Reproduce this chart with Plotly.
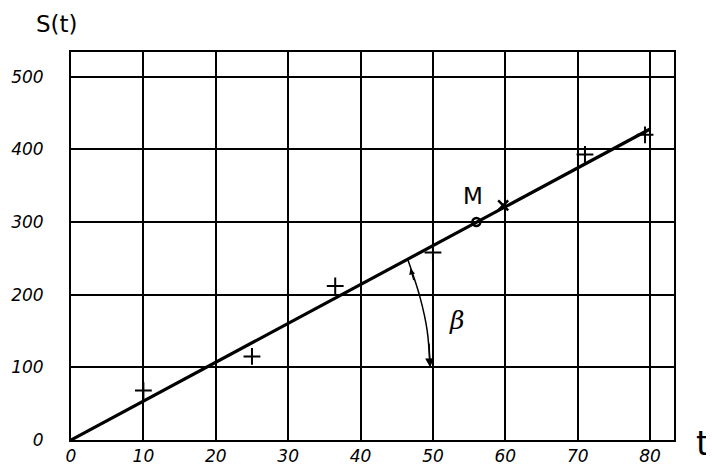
import plotly.graph_objects as go

# data
t_line = [0, 80]
s_line = [0, 428]
t_plus = [10, 25, 36.5, 50, 71, 79.3]
s_plus = [68, 115, 212, 258, 393, 420]
t_x = [59.7]
s_x = [323]
t_m = [56]
s_m = [300]
arc_t = [46.5, 48.2, 49.2, 49.6]
arc_s = [249, 197, 151, 100]
x_ticks = [0, 10, 20, 30, 40, 50, 60, 70, 80]
y_ticks = [0, 100, 200, 300, 400, 500]

# page body adds ~8px offset; compensate
OFF = 8
W, H = 714 - OFF, 472 - OFF
PL, PR, PT, PB = 71, 674, 52, 440   # desired plot box in window pixels
L, R, T, B = PL - OFF, OFF + W - PR, PT - OFF, OFF + H - PB
pw, ph = PR - PL, PB - PT


def px(x):
    return (x - PL) / pw


def py(y):
    return (PB - y) / ph


tickfont = dict(family="DejaVu Sans", size=17, color="black", style="italic")

fig = go.Figure()
fig.add_trace(go.Scatter(x=t_line, y=s_line, mode="lines",
                         line=dict(color="black", width=3.2), hoverinfo="skip"))
fig.add_trace(go.Scatter(x=t_plus, y=s_plus, mode="markers",
                         marker=dict(symbol="cross-thin", size=12, color="black",
                                     line=dict(color="black", width=2))))
fig.add_trace(go.Scatter(x=t_x, y=s_x, mode="markers",
                         marker=dict(symbol="x-thin", size=10, color="black",
                                     line=dict(color="black", width=2.5))))
fig.add_trace(go.Scatter(x=t_m, y=s_m, mode="markers",
                         marker=dict(symbol="circle-open", size=8, color="black",
                                     line=dict(color="black", width=2.5))))
fig.add_trace(go.Scatter(x=arc_t, y=arc_s, mode="lines",
                         line=dict(color="black", width=1.5, shape="spline")))

# arrowheads on the angle arc
fig.add_annotation(x=arc_t[-1], y=arc_s[-1], ax=49.45, ay=135, xref="x", yref="y",
                   axref="x", ayref="y", showarrow=True, arrowhead=2,
                   arrowsize=1.2, arrowwidth=1.5, arrowcolor="black", text="")
fig.add_annotation(x=46.9, y=236, ax=47.4, ay=218, xref="x", yref="y",
                   axref="x", ayref="y", showarrow=True, arrowhead=2,
                   arrowsize=1, arrowwidth=1.2, arrowcolor="black", text="")

fig.add_annotation(x=53.2, y=165, text="β", showarrow=False,
                   font=dict(family="DejaVu Serif", size=25, color="black", style="italic"))
fig.add_annotation(x=55.5, y=336, text="M", showarrow=False,
                   font=dict(family="DejaVu Sans", size=23, color="black"))
fig.add_annotation(x=px(57), y=py(24), xref="paper", yref="paper",
                   xanchor="center", yanchor="middle",
                   text="S(t)", showarrow=False,
                   font=dict(family="DejaVu Sans", size=23, color="black"))
fig.add_annotation(x=px(703), y=py(443), xref="paper", yref="paper",
                   xanchor="center", yanchor="middle",
                   text="t", showarrow=False,
                   font=dict(family="DejaVu Sans", size=34, color="black"))

fig.update_layout(
    width=W, height=H,
    margin=dict(l=L, r=R, t=T, b=B, autoexpand=False),
    plot_bgcolor="white", paper_bgcolor="white",
    showlegend=False,
    xaxis=dict(range=[0, 83.3], tickvals=x_ticks, showgrid=True, gridcolor="black",
               gridwidth=1.5, zeroline=False, showline=True, linecolor="black",
               linewidth=2, mirror=True, ticks="", tickfont=tickfont, fixedrange=True,
               automargin=False),
    yaxis=dict(range=[0, 534], tickvals=y_ticks, showgrid=True, gridcolor="black",
               gridwidth=1.5, zeroline=False, showline=True, linecolor="black",
               linewidth=2, mirror=True, ticks="", tickfont=tickfont, ticklabelstandoff=22,
               fixedrange=True, automargin=False),
)
fig.write_html("out.html")
